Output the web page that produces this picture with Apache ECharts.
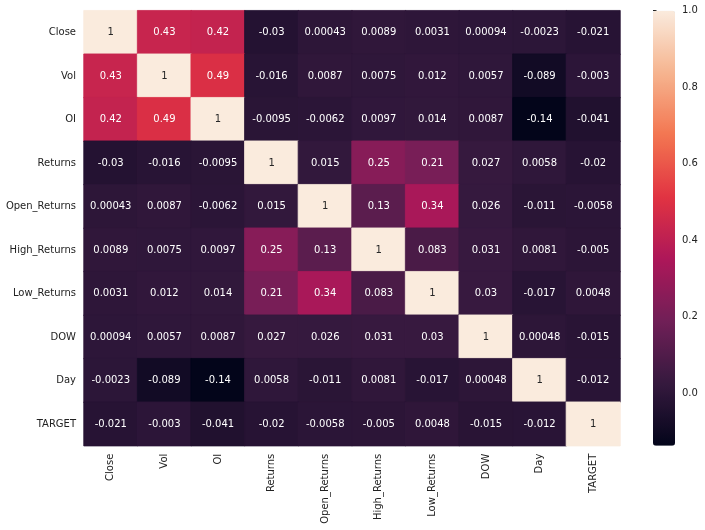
<!DOCTYPE html>
<html>
<head>
<meta charset="utf-8">
<script src="https://cdn.jsdelivr.net/npm/echarts@6/dist/echarts.min.js"></script>
<style>
  html, body { margin: 0; padding: 0; background: #fff; }
  #chart { width: 705px; height: 530px; }
</style>
</head>
<body>
<div id="chart"></div>
<script>
// column / row names of the correlation matrix
var names = ['Close', 'Vol', 'OI', 'Returns', 'Open_Returns', 'High_Returns', 'Low_Returns', 'DOW', 'Day', 'TARGET'];

// one row per variable
var rowClose   = [1, 0.43, 0.42, -0.03, 0.00043, 0.0089, 0.0031, 0.00094, -0.0023, -0.021];
var rowVol     = [0.43, 1, 0.49, -0.016, 0.0087, 0.0075, 0.012, 0.0057, -0.089, -0.003];
var rowOI      = [0.42, 0.49, 1, -0.0095, -0.0062, 0.0097, 0.014, 0.0087, -0.137, -0.041];
var rowReturns = [-0.03, -0.016, -0.0095, 1, 0.015, 0.25, 0.21, 0.027, 0.0058, -0.02];
var rowOpenRet = [0.00043, 0.0087, -0.0062, 0.015, 1, 0.13, 0.34, 0.026, -0.011, -0.0058];
var rowHighRet = [0.0089, 0.0075, 0.0097, 0.25, 0.13, 1, 0.083, 0.031, 0.0081, -0.005];
var rowLowRet  = [0.0031, 0.012, 0.014, 0.21, 0.34, 0.083, 1, 0.03, -0.017, 0.0048];
var rowDOW     = [0.00094, 0.0057, 0.0087, 0.027, 0.026, 0.031, 0.03, 1, 0.00048, -0.015];
var rowDay     = [-0.0023, -0.089, -0.137, 0.0058, -0.011, 0.0081, -0.017, 0.00048, 1, -0.012];
var rowTarget  = [-0.021, -0.003, -0.041, -0.02, -0.0058, -0.005, 0.0048, -0.015, -0.012, 1];

// colorbar tick labels
var cbarTicks = [0, 0.2, 0.4, 0.6, 0.8, 1.0];

var rows = [rowClose, rowVol, rowOI, rowReturns, rowOpenRet, rowHighRet, rowLowRet, rowDOW, rowDay, rowTarget];

// seaborn "rocket" colormap
var rocket = ['#03051a', '#35193e', '#701f57', '#ad1759', '#e13342', '#f37651', '#f6b48f', '#faebdd'];

var font = 'DejaVu Sans';
var textCol = '#222';

var vmin = Infinity, vmax = -Infinity;
rows.forEach(function (row) {
    row.forEach(function (v) {
        vmin = Math.min(vmin, v);
        vmax = Math.max(vmax, v);
    });
});

var cells = [];
rows.forEach(function (row, r) {
    row.forEach(function (v, c) {
        // border in the cell's own colour hides the antialias seams
        var col = echarts.color.lerp((v - vmin) / (vmax - vmin), rocket);
        cells.push({
            value: [c, r, v],
            itemStyle: { borderColor: col, borderWidth: 0.8 },
            label: { color: v > 0.7 ? '#262626' : '#ffffff' }
        });
    });
});

var myChart = echarts.init(document.getElementById('chart'));

var option = {
    animation: false,
    textStyle: { fontFamily: font },
    grid: [
        { left: 84, top: 10.7, width: 536, height: 435 },
        { left: 653, top: 10.7, width: 22, height: 435 }
    ],
    xAxis: [
        {
            type: 'category',
            data: names,
            gridIndex: 0,
            axisLine: { show: false },
            axisTick: { alignWithLabel: true, length: 3.5, lineStyle: { color: textCol } },
            axisLabel: { rotate: 90, fontSize: 10, color: textCol, margin: 8, fontFamily: font },
            splitLine: { show: false }
        },
        { type: 'value', gridIndex: 1, show: false }
    ],
    yAxis: [
        {
            type: 'category',
            data: names,
            inverse: true,
            gridIndex: 0,
            axisLine: { show: false },
            axisTick: { alignWithLabel: true, length: 3.5, lineStyle: { color: textCol } },
            axisLabel: { fontSize: 10, color: textCol, margin: 8, fontFamily: font },
            splitLine: { show: false }
        },
        {
            type: 'value',
            gridIndex: 1,
            position: 'right',
            min: vmin,
            max: vmax,
            axisLine: { show: false },
            splitLine: { show: false },
            axisTick: { show: true, length: 3.5, customValues: cbarTicks, lineStyle: { color: textCol } },
            axisLabel: {
                fontSize: 10, color: textCol, margin: 7, fontFamily: font,
                customValues: cbarTicks,
                formatter: function (v) { return v.toFixed(1); }
            }
        }
    ],
    visualMap: {
        type: 'continuous',
        seriesIndex: 0,
        min: vmin,
        max: vmax,
        calculable: false,
        orient: 'vertical',
        left: 653,
        top: 10.7,
        padding: 0,
        itemWidth: 22,
        itemHeight: 435,
        text: null,
        showLabel: false,
        inRange: { color: rocket }
    },
    series: [
        {
            type: 'heatmap',
            xAxisIndex: 0,
            yAxisIndex: 0,
            data: cells,
            label: {
                show: true,
                fontSize: 10,
                fontFamily: font,
                formatter: function (p) {
                    return String(Number(p.value[2].toPrecision(2)));
                }
            },
            emphasis: { disabled: true }
        }
    ]
};

myChart.setOption(option);
</script>
</body>
</html>
